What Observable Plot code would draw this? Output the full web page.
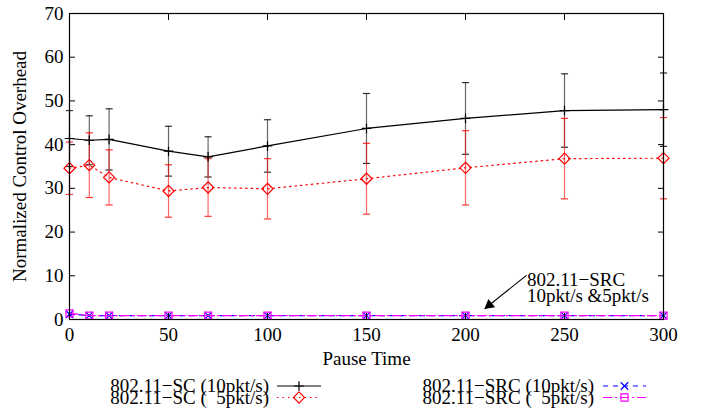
<!DOCTYPE html>
<html><head><meta charset="utf-8">
<script src="https://cdn.jsdelivr.net/npm/d3@7"></script>
<script src="https://cdn.jsdelivr.net/npm/@observablehq/plot@0.6"></script>
<style>
body{margin:0;background:#fff;}
#wrap{position:relative;width:705px;height:409px;font-family:"Liberation Serif","Times New Roman",serif;}
#legend{position:absolute;left:0;top:372px;}
</style></head><body><div id="wrap"></div>
<script>
// ---- data ----
const pauseTime = [0, 10, 20, 50, 70, 100, 150, 200, 250, 300];
const sc10    = [41.4, 41.0, 41.2, 38.5, 37.2, 39.7, 43.7, 46.0, 47.8, 48.0];
const sc10Err = [6.4, 5.6, 7.0, 5.7, 4.6, 6.0, 8.0, 8.2, 8.4, 8.4];
const sc5     = [34.6, 35.3, 32.5, 29.4, 30.2, 29.9, 32.2, 34.7, 36.8, 36.9];
const sc5Err  = [6.0, 7.4, 6.3, 6.0, 6.6, 6.9, 8.1, 8.5, 9.2, 9.3];
const src10   = [1.2, 0.9, 0.9, 0.9, 0.9, 0.9, 0.9, 0.9, 0.9, 0.9];
const src5    = [1.4, 0.9, 0.9, 0.9, 0.9, 0.9, 0.9, 0.9, 0.9, 0.9];
const xTicks = [0, 50, 100, 150, 200, 250, 300];
const yTicks = [0, 10, 20, 30, 40, 50, 60, 70];
const seriesNames = ["802.11\u2212SC (10pkt/s)", "802.11\u2212SC (  5pkt/s)", "802.11\u2212SRC (10pkt/s)", "802.11\u2212SRC (  5pkt/s)"];
const annotationText = ["802.11\u2212SRC\n10pkt/s &5pkt/s"];
const annotationArrow = [{x1: 230.8, y1: 10.1, x2: 209.7, y2: 2.45}];
const annotationAnchor = [{x: 231, y: 7.0}];

// ---- styles ----
const styles = [
  {stroke: "black", dash: null, symbol: "plus", r: 3.2, err: sc10Err, vals: sc10},
  {stroke: "#ff0000", dash: "1.5,4", symbol: "diamond2", r: 5, err: sc5Err, vals: sc5},
  {stroke: "#0000ff", dash: "5,5", symbol: "times", r: 3.5, err: null, vals: src10},
  {stroke: "#ff00ff", dash: "9,3,2,3", symbol: "square2", r: 4.5, err: null, vals: src5}
];
const series = styles.map((s, k) => pauseTime.map((x, i) => ({x, y: s.vals[i], e: s.err ? s.err[i] : 0, name: seriesNames[k]})));
const fontFamily = "Liberation Serif";
const capHalf = 1.8;

const marks = [];
[0, 1].forEach(k => {
  const s = styles[k], d = series[k];
  marks.push(Plot.ruleX(d, {x: "x", y1: q => q.y - q.e, y2: q => q.y + q.e, stroke: s.stroke, strokeOpacity: 0.6, strokeWidth: 1.2}));
  marks.push(Plot.link(d, {x1: q => q.x - capHalf, x2: q => q.x + capHalf, y1: q => q.y + q.e, y2: q => q.y + q.e, stroke: s.stroke, strokeOpacity: 0.8, strokeWidth: 1.2}));
  marks.push(Plot.link(d, {x1: q => q.x - capHalf, x2: q => q.x + capHalf, y1: q => q.y - q.e, y2: q => q.y - q.e, stroke: s.stroke, strokeOpacity: 0.8, strokeWidth: 1.2}));
});
styles.forEach((s, k) => {
  marks.push(Plot.line(series[k], {x: "x", y: "y", stroke: s.stroke, strokeWidth: 1.2, strokeDasharray: s.dash}));
  marks.push(Plot.dot(series[k], {x: "x", y: "y", symbol: () => s.symbol, r: s.r, stroke: s.stroke, fill: "none", strokeWidth: 1.2}));
});
marks.push(Plot.link(annotationArrow, {x1: "x1", y1: "y1", x2: "x2", y2: "y2", stroke: "black", strokeWidth: 1.1}));
marks.push(Plot.dot(annotationArrow, {x: d => d.x2 + 0.11 * (d.x1 - d.x2), y: d => d.y2 + 0.11 * (d.y1 - d.y2), symbol: "triangle", r: 4, fill: "black", stroke: "none", rotate: 231}));
marks.push(Plot.text(annotationAnchor, {x: "x", y: "y", text: () => annotationText[0], textAnchor: "start", lineAnchor: "middle", lineHeight: 0.85, fontSize: 19, fontFamily, fill: "black"}));
marks.push(Plot.frame({stroke: "black", strokeWidth: 1.2}));
marks.push(Plot.axisY(yTicks, {anchor: "left", tickSize: -6, tickPadding: 12, fontSize: 19, fontFamily, label: "Normalized Control Overhead", labelAnchor: "center", labelOffset: 57, labelArrow: "none"}));
marks.push(Plot.axisY(yTicks, {anchor: "right", tickSize: -6, tickFormat: () => "", label: null}));
marks.push(Plot.axisX(xTicks, {anchor: "bottom", tickSize: -6, tickPadding: 14, fontSize: 19, fontFamily, label: "Pause Time", labelAnchor: "center", labelOffset: 45, labelArrow: "none"}));
marks.push(Plot.axisX(xTicks, {anchor: "top", tickSize: -6, tickFormat: () => "", label: null}));

const chart = Plot.plot({
  width: 705, height: 372,
  marginLeft: 69, marginRight: 42, marginTop: 13, marginBottom: 53,
  x: {domain: [0, 300]},
  y: {domain: [0, 70]},
  style: {fontFamily: "Liberation Serif", fontSize: "19px", color: "black", background: "white"},
  marks
});
const wrap = document.getElementById("wrap");
wrap.appendChild(chart);
chart.querySelectorAll("text, g").forEach(t => {
  t.removeAttribute("font-family");
  t.style.setProperty("font-family", "Liberation Serif", "important");
});

// ---- legend (below the SVG) ----
const legendItems = [
  {k: 0, textX: 269, lineX1: 277, lineX2: 321, row: 0},
  {k: 1, textX: 269, lineX1: 277, lineX2: 321, row: 1},
  {k: 2, textX: 594, lineX1: 603, lineX2: 646, row: 0},
  {k: 3, textX: 594, lineX1: 603, lineX2: 646, row: 1}
];
const rowBase = [20, 31.5];
const lg = d3.select(wrap).append("svg").attr("id", "legend").attr("width", 705).attr("height", 37)
  .style("font-family", "Liberation Serif").style("font-size", "19px");
const symPath = {plus: d3.symbolPlus, diamond2: d3.symbolDiamond2, times: d3.symbolTimes, square2: d3.symbolSquare2};
legendItems.forEach(it => {
  const s = styles[it.k];
  const yb = rowBase[it.row];
  lg.append("text").attr("x", it.textX).attr("y", yb).attr("text-anchor", "end")
    .attr("xml:space", "preserve").style("white-space", "pre").text(seriesNames[it.k]);
  const yl = yb - 6;
  lg.append("line").attr("x1", it.lineX1).attr("x2", it.lineX2).attr("y1", yl).attr("y2", yl)
    .attr("stroke", s.stroke).attr("stroke-width", 1.2).attr("stroke-dasharray", s.dash);
  lg.append("path").attr("transform", `translate(${(it.lineX1 + it.lineX2) / 2},${yl})`)
    .attr("d", d3.symbol(symPath[s.symbol], Math.PI * s.r * s.r)())
    .attr("fill", "none").attr("stroke", s.stroke).attr("stroke-width", 1.2);
});
</script></body></html>
